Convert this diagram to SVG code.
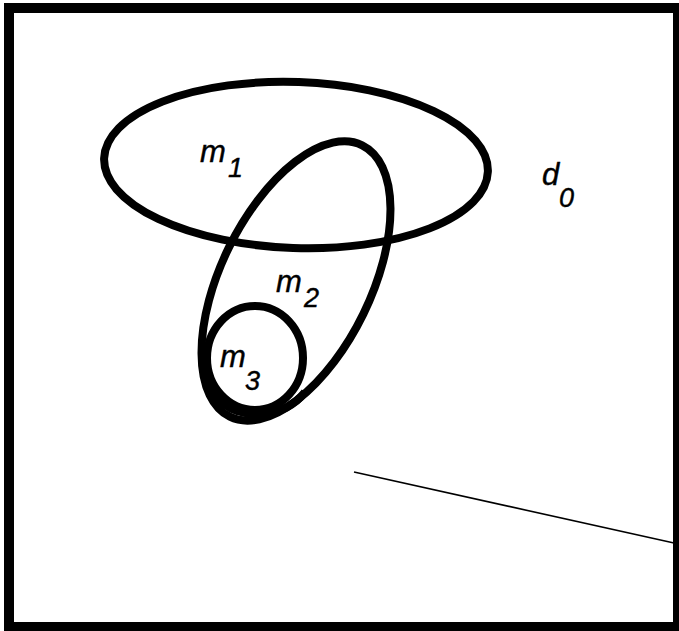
<svg xmlns="http://www.w3.org/2000/svg" width="679" height="631" viewBox="0 0 679 631">
<style>
.set{fill:none;stroke:#000;stroke-width:8}
.lbl{font-family:"Liberation Sans",Arial,sans-serif;font-style:italic;fill:#000;stroke:#000;stroke-width:0.4}
.main{font-size:31px}
.sub{font-size:27px}
</style>
<rect x="0" y="0" width="679" height="631" fill="#fff"/>
<rect id="frame" x="9" y="8" width="669" height="619" fill="none" stroke="#000" stroke-width="10"/>
<g id="m1">
<ellipse class="set" cx="296" cy="165" rx="192" ry="83" transform="rotate(2 296 165)"/>
<text class="lbl main" x="200" y="162">m</text><text class="lbl sub" x="228" y="177">1</text>
</g>
<g id="m2">
<ellipse class="set" cx="296" cy="281" rx="151" ry="75" transform="rotate(-64 296 281)"/>
<text class="lbl main" x="276" y="292">m</text><text class="lbl sub" x="304" y="307">2</text>
</g>
<g id="m3">
<ellipse class="set" cx="255" cy="358" rx="48" ry="52"/>
<path class="set" d="M207 370 C210 400 230 415 260 414 C280 413 295 405 305 392" stroke-width="5"/>
<text class="lbl main" x="220" y="367">m</text><text class="lbl sub" x="245" y="390">3</text>
</g>
<g id="d0">
<text class="lbl main" x="542" y="185">d</text><text class="lbl sub" x="559" y="207">0</text>
</g>
<g id="connectors">
<line x1="354" y1="472" x2="674" y2="543" stroke="#000" stroke-width="1.6"/>
</g>
</svg>
